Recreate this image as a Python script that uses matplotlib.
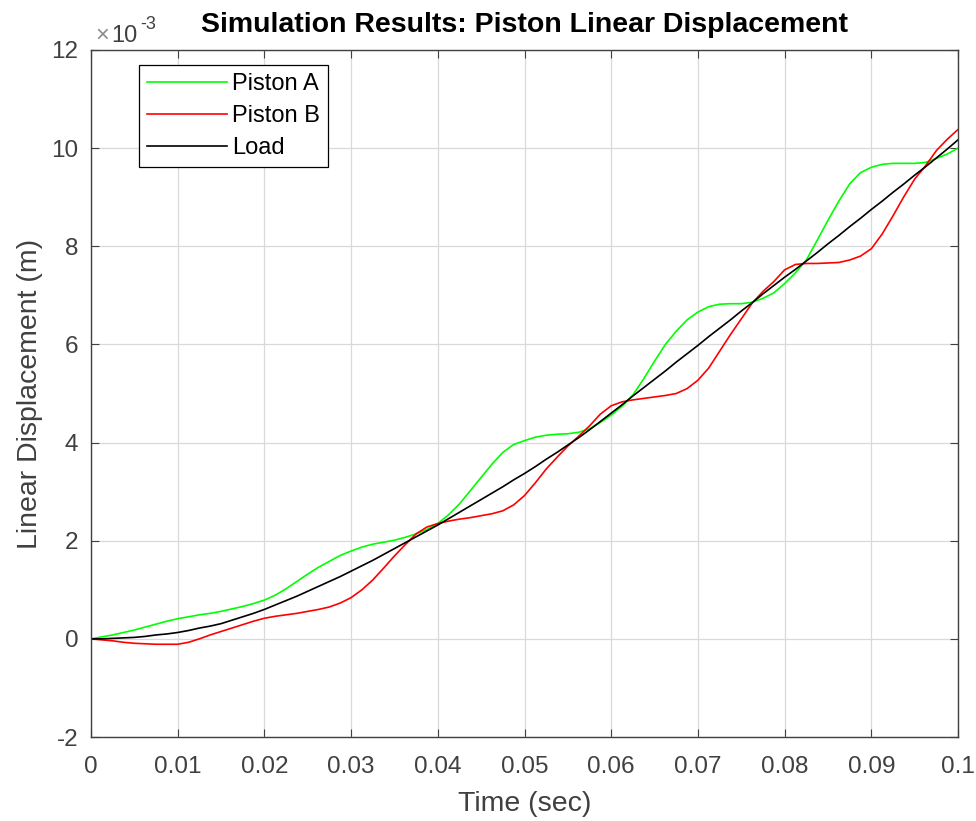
import matplotlib
matplotlib.use("Agg")
import matplotlib.pyplot as plt

### DATOS (desplazamiento en unidades de 1e-3 m)
### ------------------

time = [0.0, 0.00125, 0.0025, 0.00375, 0.005, 0.00625, 0.0075, 0.00875,
        0.01, 0.01125, 0.0125, 0.01375, 0.015, 0.01625, 0.0175, 0.01875,
        0.02, 0.02125, 0.0225, 0.02375, 0.025, 0.02625, 0.0275, 0.02875,
        0.03, 0.03125, 0.0325, 0.03375, 0.035, 0.03625, 0.0375, 0.03875,
        0.04, 0.04125, 0.0425, 0.04375, 0.045, 0.04625, 0.0475, 0.04875,
        0.05, 0.05125, 0.0525, 0.05375, 0.055, 0.05625, 0.0575, 0.05875,
        0.06, 0.06125, 0.0625, 0.06375, 0.065, 0.06625, 0.0675, 0.06875,
        0.07, 0.07125, 0.0725, 0.07375, 0.075, 0.07625, 0.0775, 0.07875,
        0.08, 0.08125, 0.0825, 0.08375, 0.085, 0.08625, 0.0875, 0.08875,
        0.09, 0.09125, 0.0925, 0.09375, 0.095, 0.09625, 0.0975, 0.09875,
        0.1]

piston_a = [0.0, 0.04, 0.08, 0.13, 0.18, 0.24, 0.30, 0.36,
            0.41, 0.45, 0.49, 0.52, 0.56, 0.61, 0.66, 0.72,
            0.79, 0.89, 1.02, 1.17, 1.32, 1.46, 1.58, 1.70,
            1.79, 1.87, 1.93, 1.97, 2.01, 2.07, 2.14, 2.23,
            2.35, 2.53, 2.75, 3.02, 3.29, 3.56, 3.80, 3.96,
            4.04, 4.11, 4.15, 4.17, 4.18, 4.21, 4.28, 4.41,
            4.56, 4.74, 4.97, 5.30, 5.66, 6.00, 6.27, 6.50,
            6.66, 6.77, 6.82, 6.83, 6.83, 6.86, 6.94, 7.05,
            7.24, 7.46, 7.72, 8.12, 8.53, 8.92, 9.27, 9.50,
            9.61, 9.67, 9.69, 9.69, 9.69, 9.71, 9.79, 9.88,
            10.0]

piston_b = [0.0, -0.02, -0.04, -0.07, -0.09, -0.10, -0.11, -0.11,
            -0.11, -0.07, 0.0, 0.08, 0.15, 0.22, 0.29, 0.36,
            0.42, 0.46, 0.49, 0.52, 0.56, 0.60, 0.65, 0.73,
            0.84, 1.0, 1.2, 1.44, 1.69, 1.92, 2.14, 2.28,
            2.35, 2.40, 2.44, 2.47, 2.51, 2.55, 2.61, 2.73,
            2.92, 3.18, 3.46, 3.70, 3.93, 4.13, 4.34, 4.58,
            4.75, 4.83, 4.87, 4.90, 4.93, 4.96, 5.0, 5.1,
            5.27, 5.52, 5.86, 6.20, 6.52, 6.84, 7.08, 7.28,
            7.52, 7.63, 7.65, 7.65, 7.66, 7.67, 7.72, 7.80,
            7.95, 8.25, 8.62, 9.01, 9.37, 9.64, 9.95, 10.18,
            10.38]

load = [0.0, 0.0, 0.01, 0.02, 0.03, 0.05, 0.08, 0.1,
        0.13, 0.17, 0.22, 0.26, 0.31, 0.38, 0.45, 0.52,
        0.6, 0.69, 0.78, 0.87, 0.97, 1.07, 1.17, 1.27,
        1.38, 1.49, 1.6, 1.72, 1.84, 1.96, 2.08, 2.2,
        2.32, 2.45, 2.58, 2.71, 2.84, 2.97, 3.1, 3.24,
        3.37, 3.51, 3.66, 3.8, 3.95, 4.1, 4.26, 4.43,
        4.6, 4.77, 4.95, 5.12, 5.29, 5.46, 5.64, 5.81,
        5.98, 6.16, 6.33, 6.5, 6.68, 6.85, 7.03, 7.2,
        7.37, 7.53, 7.7, 7.87, 8.05, 8.22, 8.4, 8.57,
        8.75, 8.92, 9.1, 9.27, 9.45, 9.62, 9.8, 9.98,
        10.17]

x_ticks = [0, 0.01, 0.02, 0.03, 0.04, 0.05, 0.06, 0.07, 0.08, 0.09, 0.1]
x_labels = ["0", "0.01", "0.02", "0.03", "0.04", "0.05", "0.06", "0.07", "0.08", "0.09", "0.1"]
y_ticks = [-2, 0, 2, 4, 6, 8, 10, 12]
y_labels = ["-2", "0", "2", "4", "6", "8", "10", "12"]

### GRAFICA
### ------------------

plt.rcParams['font.family'] = ['Liberation Sans', 'DejaVu Sans']
plt.rcParams['axes.unicode_minus'] = False

gray = '#404040'

fig = plt.figure(figsize=(9.76, 8.21), dpi=100)
ax = fig.add_axes([0.0932, 0.1023, 0.8884, 0.8368])

ax.plot(time, [v * 1e-3 for v in piston_a], color='#00ff00', lw=1.2, label='Piston A')
ax.plot(time, [v * 1e-3 for v in piston_b], color='#ff0000', lw=1.2, label='Piston B')
ax.plot(time, [v * 1e-3 for v in load], color='black', lw=1.2, label='Load')

ax.set_xlim(0, 0.1)
ax.set_ylim(-2e-3, 12e-3)
ax.set_xticks(x_ticks)
ax.set_xticklabels(x_labels)
ax.set_yticks([v * 1e-3 for v in y_ticks])
ax.set_yticklabels(y_labels)

# multiplicador del eje y, estilo MATLAB
fig.text(95 / 976, 1 - 42 / 821, '\u00d7', fontsize=17, color='#8c8c8c', va='baseline')
fig.text(111 / 976, 1 - 42 / 821, '10', fontsize=17, color=gray, va='baseline')
fig.text(140 / 976, 1 - 29 / 821, '-3', fontsize=13, color=gray, va='baseline')

ax.tick_params(direction='in', length=6, width=0.8, colors=gray, labelsize=17.5,
               top=True, right=True)
ax.tick_params(axis='x', pad=14)
ax.tick_params(axis='y', pad=9)
for s in ax.spines.values():
    s.set_color(gray)
    s.set_linewidth(1.0)

ax.grid(True, color='#d9d9d9', lw=0.9)
ax.set_axisbelow(True)

ax.set_xlabel('Time (sec)', fontsize=20.5, color=gray, labelpad=9)
ax.set_ylabel('Linear Displacement (m)', fontsize=20.5, color=gray, labelpad=6)
ax.set_title('Simulation Results: Piston Linear Displacement', fontsize=20.5,
             fontweight='bold', color='black', pad=13)

leg = ax.legend(loc='upper left', bbox_to_anchor=(0.055, 0.978), borderaxespad=0,
                fontsize=17, fancybox=False, framealpha=1, edgecolor='black',
                handlelength=3.4, handletextpad=0.2, labelspacing=0.42,
                borderpad=0.35)
leg.get_frame().set_linewidth(0.9)

fig.savefig('out.png', dpi=100)
